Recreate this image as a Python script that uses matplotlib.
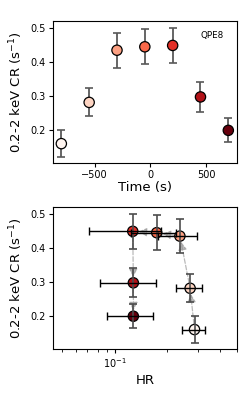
import numpy as np
import matplotlib
matplotlib.use("Agg")
import matplotlib.pyplot as plt
from matplotlib.ticker import NullFormatter

# Data
time = [-800, -550, -300, -50, 200, 450, 700]
cr = [0.160, 0.281, 0.434, 0.444, 0.448, 0.297, 0.199]
cr_err = [0.039, 0.041, 0.051, 0.051, 0.052, 0.043, 0.035]
hr = [0.286, 0.270, 0.236, 0.174, 0.127, 0.128, 0.128]
hr_err = [0.044, 0.045, 0.058, 0.050, 0.056, 0.045, 0.037]
label = "QPE8"

colors = plt.cm.Reds(np.linspace(0, 1, len(time)))

fig = plt.figure(figsize=(2.46, 3.93), dpi=100)
ax1 = fig.add_axes([0.2154, 0.585, 0.748, 0.361])
ax2 = fig.add_axes([0.2154, 0.112, 0.748, 0.361])

# Top panel
eb = ax1.errorbar(time, cr, yerr=cr_err, fmt='none', ecolor='0.35', elinewidth=1.3,
                  capsize=3, capthick=1.2, zorder=1)
for cap in eb[1]:
    cap.set_color('k')
ax1.scatter(time, cr, c=colors, s=55, edgecolors='k', linewidths=0.9, zorder=3)
ax1.set_xlim(-875, 778)
ax1.set_ylim(0.103, 0.519)
ax1.set_yticks([0.2, 0.3, 0.4, 0.5])
ax1.set_xticks([-500, 0, 500])
ax1.set_xlabel("Time (s)", fontsize=9.5, labelpad=1)
ax1.set_ylabel("0.2-2 keV CR (s$^{-1}$)", fontsize=9.5)
ax1.text(0.93, 0.9, label, transform=ax1.transAxes, ha='right', va='center', fontsize=6.3)
ax1.tick_params(labelsize=7, length=3, pad=2)

# Bottom panel
ax2.set_xscale('log')
for i in range(len(hr) - 1):
    ax2.annotate('', xy=(hr[i + 1], cr[i + 1]), xytext=(hr[i], cr[i]),
                 arrowprops=dict(arrowstyle='-|>,head_width=0.25,head_length=0.5',
                                 color='0.55', alpha=0.6, linestyle='--', lw=0.9,
                                 shrinkA=4, shrinkB=4), zorder=1)
ax2.scatter(hr, cr, c=colors, s=55, edgecolors='k', linewidths=0.9, zorder=2)
eb2 = ax2.errorbar(hr, cr, yerr=cr_err, fmt='none', ecolor='0.3', elinewidth=1.2,
                   capsize=3, capthick=1.2, zorder=3)
for cap in eb2[1]:
    cap.set_color('k')
ax2.errorbar(hr, cr, xerr=hr_err, fmt='none', ecolor='k', elinewidth=1.0,
             capsize=3, capthick=1.0, zorder=4)
ax2.set_xlim(0.0445, 0.50)
ax2.set_ylim(0.103, 0.519)
ax2.set_yticks([0.2, 0.3, 0.4, 0.5])
ax2.xaxis.set_minor_formatter(NullFormatter())
ax2.set_xlabel("HR", fontsize=9.5, labelpad=3)
ax2.set_ylabel("0.2-2 keV CR (s$^{-1}$)", fontsize=9.5)
ax2.tick_params(labelsize=7, length=3, pad=2)
ax2.tick_params(which='minor', length=1.8)

fig.savefig("out.png", dpi=100)
